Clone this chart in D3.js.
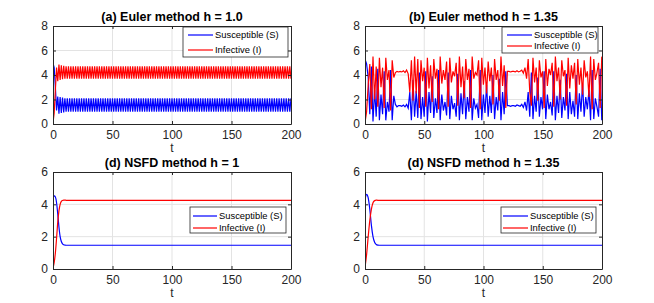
<!DOCTYPE html>
<html>
<head>
<meta charset="utf-8">
<script src="https://cdn.jsdelivr.net/npm/d3@7"></script>
<style>
  body { margin: 0; background: #fff; }
  text { font-family: "Liberation Sans", Arial, sans-serif; fill: #262626; }
</style>
</head>
<body>
<script>
// (a) Euler h = 1.0, one value per step t = 0..200
var S_a = [4.95,4.6,3.0,1.1,2.25,0.85,2.2,0.9,2.15,0.95,
  2.1,1.0,2.1,1.0,2.1,1.0,2.1,1.0,2.1,1.0,2.1,1.0,2.1,1.0,2.1,1.0,2.1,1.0,2.1,1.0,
  2.1,1.0,2.1,1.0,2.1,1.0,2.1,1.0,2.1,1.0,2.1,1.0,2.1,1.0,2.1,1.0,2.1,1.0,2.1,1.0,
  2.1,1.0,2.1,1.0,2.1,1.0,2.1,1.0,2.1,1.0,2.1,1.0,2.1,1.0,2.1,1.0,2.1,1.0,2.1,1.0,
  2.1,1.0,2.1,1.0,2.1,1.0,2.1,1.0,2.1,1.0,2.1,1.0,2.1,1.0,2.1,1.0,2.1,1.0,2.1,1.0,
  2.1,1.0,2.1,1.0,2.1,1.0,2.1,1.0,2.1,1.0,2.1,1.0,2.1,1.0,2.1,1.0,2.1,1.0,2.1,1.0,
  2.1,1.0,2.1,1.0,2.1,1.0,2.1,1.0,2.1,1.0,2.1,1.0,2.1,1.0,2.1,1.0,2.1,1.0,2.1,1.0,
  2.1,1.0,2.1,1.0,2.1,1.0,2.1,1.0,2.1,1.0,2.1,1.0,2.1,1.0,2.1,1.0,2.1,1.0,2.1,1.0,
  2.1,1.0,2.1,1.0,2.1,1.0,2.1,1.0,2.1,1.0,2.1,1.0,2.1,1.0,2.1,1.0,2.1,1.0,2.1,1.0,
  2.1,1.0,2.1,1.0,2.1,1.0,2.1,1.0,2.1,1.0,2.1,1.0,2.1,1.0,2.1,1.0,2.1,1.0,2.1,1.0,
  2.1,1.0,2.1,1.0,2.1,1.0,2.1,1.0,2.1,1.0,2.1];
var I_a = [0.1,0.9,2.8,4.6,3.5,4.85,3.6,4.8,3.65,4.75,
  3.7,4.7,3.7,4.7,3.7,4.7,3.7,4.7,3.7,4.7,3.7,4.7,3.7,4.7,3.7,4.7,3.7,4.7,3.7,4.7,
  3.7,4.7,3.7,4.7,3.7,4.7,3.7,4.7,3.7,4.7,3.7,4.7,3.7,4.7,3.7,4.7,3.7,4.7,3.7,4.7,
  3.7,4.7,3.7,4.7,3.7,4.7,3.7,4.7,3.7,4.7,3.7,4.7,3.7,4.7,3.7,4.7,3.7,4.7,3.7,4.7,
  3.7,4.7,3.7,4.7,3.7,4.7,3.7,4.7,3.7,4.7,3.7,4.7,3.7,4.7,3.7,4.7,3.7,4.7,3.7,4.7,
  3.7,4.7,3.7,4.7,3.7,4.7,3.7,4.7,3.7,4.7,3.7,4.7,3.7,4.7,3.7,4.7,3.7,4.7,3.7,4.7,
  3.7,4.7,3.7,4.7,3.7,4.7,3.7,4.7,3.7,4.7,3.7,4.7,3.7,4.7,3.7,4.7,3.7,4.7,3.7,4.7,
  3.7,4.7,3.7,4.7,3.7,4.7,3.7,4.7,3.7,4.7,3.7,4.7,3.7,4.7,3.7,4.7,3.7,4.7,3.7,4.7,
  3.7,4.7,3.7,4.7,3.7,4.7,3.7,4.7,3.7,4.7,3.7,4.7,3.7,4.7,3.7,4.7,3.7,4.7,3.7,4.7,
  3.7,4.7,3.7,4.7,3.7,4.7,3.7,4.7,3.7,4.7,3.7,4.7,3.7,4.7,3.7,4.7,3.7,4.7,3.7,4.7,
  3.7,4.7,3.7,4.7,3.7,4.7,3.7,4.7,3.7,4.7,3.7];

// (b) Euler h = 1.35, one value per step (t = 0 .. 199.8)
var S_b = [5.3,4.9,3.8,0.8,4.7,0.2,2.8,0.6,4.5,0.3,2.4,0.8,4.3,0.3,1.8,1.0,4.4,0.3,2.3,1.6,
  1.4,1.5,1.5,1.45,1.55,1.4,1.6,1.3,2.6,0.3,3.6,0.6,2.7,0.5,4.2,0.4,2.2,0.6,4.3,0.2,
  2.6,0.9,3.9,0.5,2.1,0.9,4.4,0.3,2.4,1.1,1.8,0.7,4.2,0.4,2.3,1.2,1.7,0.6,4.1,0.3,
  2.5,0.8,3.5,0.4,2.2,1.0,4.4,0.3,2.1,1.3,1.6,0.5,4.4,0.3,2.4,0.9,3.2,0.6,2.3,0.9,
  4.0,0.4,2.2,1.1,3.7,0.3,2.6,0.8,4.3,1.5,1.5,1.45,1.5,1.5,1.45,1.55,1.5,1.45,1.6,1.35,
  1.8,1.1,2.6,0.6,4.2,0.4,2.3,1.0,3.8,0.6,2.2,1.2,4.3,0.4,2.4,1.2,1.8,0.7,4.3,0.3,
  2.3,0.9,3.6,0.5,2.2,1.1,4.1,0.4,2.6,0.8,1.9,0.6,4.0,0.4,2.5,1.0,3.3,0.6,2.2,1.2,
  2.8,0.3,4.4,0.4,2.1,1.4,0.6,4.5,0.3];
var I_b = [0.1,1.0,3.2,4.9,1.2,5.5,2.0,4.7,1.4,5.4,3.0,4.6,1.3,5.4,3.6,4.4,1.1,5.2,3.8,4.2,
  4.3,4.25,4.3,4.25,4.35,4.2,4.4,4.1,2.6,5.2,1.9,5.5,2.5,5.3,1.3,5.2,3.5,4.6,1.4,5.4,
  2.9,4.8,1.8,5.3,3.7,4.5,1.2,5.5,3.3,4.4,3.6,5.1,1.4,5.4,3.4,4.3,3.9,5.0,1.5,5.5,
  3.0,4.7,2.1,5.3,3.6,4.5,1.3,5.5,3.7,4.2,4.0,5.2,1.2,5.4,3.2,4.6,2.5,5.1,3.5,4.6,
  1.6,5.3,3.6,4.4,1.9,5.5,3.1,4.8,1.3,4.3,4.3,4.25,4.3,4.3,4.25,4.35,4.25,4.3,4.4,4.15,
  4.6,3.7,5.3,2.6,1.5,5.4,3.4,4.6,1.9,5.2,3.8,4.3,1.3,5.3,3.1,4.5,4.0,5.0,1.4,5.5,
  3.5,4.6,2.0,5.2,3.9,4.4,1.5,5.4,2.9,4.8,3.7,5.0,1.6,5.3,3.2,4.6,2.4,5.2,3.8,4.3,
  2.2,5.5,1.2,5.3,3.6,4.2,5.0,1.3,5.5];

// (d) NSFD h = 1
var t_c = [0,1,2,3,4,5,6,7,8,9,10,11,12,14,200];
var S_c = [4.4,4.52,4.45,4.1,3.4,2.6,2.0,1.7,1.56,1.5,1.48,1.47,1.47,1.47,1.47];
var I_c = [0.05,0.4,1.0,1.9,2.9,3.6,4.0,4.18,4.24,4.26,4.26,4.25,4.25,4.25,4.25];

// (d) NSFD h = 1.35
var t_d = [0,1.35,2.7,4.05,5.4,6.75,8.1,9.45,10.8,12.15,13.5,200];
var S_d = [4.3,4.62,4.4,3.7,2.7,2.0,1.65,1.52,1.48,1.47,1.47,1.47];
var I_d = [0.1,0.9,2.0,3.0,3.7,4.1,4.23,4.26,4.25,4.25,4.25,4.25];

var xTicks = [0, 50, 100, 150, 200];
var yTicksTop = [0, 2, 4, 6, 8];
var yTicksBottom = [0, 2, 4, 6];

function steps(n, h) { return d3.range(n).map(function(k) { return k * h; }); }

var panels = [
  { title: "(a) Euler method h = 1.0", x0: 53, x1: 291, y0: 26, y1: 124, ymax: 8, yt: yTicksTop,
    t: steps(S_a.length, 1), S: S_a, I: I_a, curve: d3.curveLinear,
    leg: { x: 183, y: 27, w: 105, h: 30, lx: 188, ll: 25, r1: 35, r2: 50 }, sLabel: "Susceptible  (S)" },
  { title: "(b) Euler method h = 1.35", x0: 365, x1: 602, y0: 26, y1: 124, ymax: 8, yt: yTicksTop,
    t: steps(S_b.length, 1.35), S: S_b, I: I_b, curve: d3.curveLinear,
    leg: { x: 502, y: 27, w: 96, h: 26, lx: 507, ll: 25, r1: 35, r2: 46 }, sLabel: "Susceptible (S)" },
  { title: "(d) NSFD method h = 1", x0: 53, x1: 291, y0: 172, y1: 269, ymax: 6, yt: yTicksBottom,
    t: t_c, S: S_c, I: I_c, curve: d3.curveMonotoneX,
    leg: { x: 190, y: 207, w: 96, h: 26, lx: 193, ll: 24, r1: 216, r2: 228 }, sLabel: "Susceptible (S)" },
  { title: "(d) NSFD method h = 1.35", x0: 365, x1: 602, y0: 172, y1: 269, ymax: 6, yt: yTicksBottom,
    t: t_d, S: S_d, I: I_d, curve: d3.curveMonotoneX,
    leg: { x: 501, y: 207, w: 95, h: 26, lx: 503, ll: 25, r1: 216, r2: 228 }, sLabel: "Susceptible (S)" }
];

var svg = d3.select("body").append("svg")
  .attr("width", 654)
  .attr("height", 303);

svg.append("rect").attr("width", 654).attr("height", 303).attr("fill", "#fff");

panels.forEach(function(p, i) {
  var x = d3.scaleLinear().domain([0, 200]).range([p.x0, p.x1]);
  var y = d3.scaleLinear().domain([0, p.ymax]).range([p.y1, p.y0]);
  var g = svg.append("g");
  var clipId = "clip" + i;

  g.append("clipPath").attr("id", clipId)
    .append("rect").attr("x", p.x0).attr("y", p.y0)
    .attr("width", p.x1 - p.x0).attr("height", p.y1 - p.y0);

  // grid
  g.selectAll(".gx").data(xTicks.slice(1, -1)).enter().append("line")
    .attr("x1", function(d) { return x(d); }).attr("x2", function(d) { return x(d); })
    .attr("y1", p.y0).attr("y2", p.y1)
    .attr("stroke", "#e3e3e3").attr("stroke-width", 1);
  g.selectAll(".gy").data(p.yt.slice(1, -1)).enter().append("line")
    .attr("x1", p.x0).attr("x2", p.x1)
    .attr("y1", function(d) { return y(d); }).attr("y2", function(d) { return y(d); })
    .attr("stroke", "#e3e3e3").attr("stroke-width", 1);

  // series
  var line = function(vals) {
    return d3.line()
      .x(function(d, k) { return x(p.t[k]); })
      .y(function(d) { return y(d); })
      .curve(p.curve)(vals);
  };
  g.append("path").attr("d", line(p.S)).attr("fill", "none")
    .attr("stroke", "#0000ff").attr("stroke-width", 1.2).attr("clip-path", "url(#" + clipId + ")");
  g.append("path").attr("d", line(p.I)).attr("fill", "none")
    .attr("stroke", "#ff0000").attr("stroke-width", 1.2).attr("clip-path", "url(#" + clipId + ")");

  // axes (ticks inward, boxed)
  var fmt = d3.format("d");
  g.append("g").attr("transform", "translate(0," + p.y1 + ")")
    .call(d3.axisBottom(x).tickValues(xTicks).tickFormat(fmt).tickSizeInner(-3).tickSizeOuter(0).tickPadding(6))
    .call(function(a) {
      a.selectAll("text").attr("font-size", 12).attr("fill", "#262626");
      a.selectAll("line,path").attr("stroke", "#262626");
    });
  g.append("g").attr("transform", "translate(" + p.x0 + ",0)")
    .call(d3.axisLeft(y).tickValues(p.yt).tickFormat(fmt).tickSizeInner(-3).tickSizeOuter(0).tickPadding(5))
    .call(function(a) {
      a.selectAll("text").attr("font-size", 12).attr("fill", "#262626");
      a.selectAll("line,path").attr("stroke", "#262626");
    });
  g.append("g").attr("transform", "translate(0," + p.y0 + ")")
    .call(d3.axisTop(x).tickValues(xTicks).tickSizeInner(-3).tickSizeOuter(0).tickFormat(""))
    .call(function(a) { a.selectAll("line,path").attr("stroke", "#262626"); });
  g.append("g").attr("transform", "translate(" + p.x1 + ",0)")
    .call(d3.axisRight(y).tickValues(p.yt).tickSizeInner(-3).tickSizeOuter(0).tickFormat(""))
    .call(function(a) { a.selectAll("line,path").attr("stroke", "#262626"); });

  // title and x label
  g.append("text").attr("x", (p.x0 + p.x1) / 2).attr("y", p.y0 - 5)
    .attr("text-anchor", "middle").attr("font-size", 12.5).attr("font-weight", "bold")
    .style("fill", "#000").text(p.title);
  g.append("text").attr("x", (p.x0 + p.x1) / 2).attr("y", p.y1 + 28)
    .attr("text-anchor", "middle").attr("font-size", 12).text("t");

  // legend
  var L = p.leg;
  g.append("rect").attr("x", L.x).attr("y", L.y).attr("width", L.w).attr("height", L.h)
    .attr("fill", "#fff").attr("stroke", "#262626").attr("stroke-width", 0.8);
  [[p.sLabel, "#0000ff", L.r1], ["Infective (I)", "#ff0000", L.r2]].forEach(function(e) {
    g.append("line").attr("x1", L.lx).attr("x2", L.lx + L.ll)
      .attr("y1", e[2]).attr("y2", e[2]).attr("stroke", e[1]).attr("stroke-width", 1.2);
    g.append("text").attr("x", L.lx + L.ll + 2).attr("y", e[2] + 3.3)
      .attr("font-size", 9.4).style("fill", "#000").text(e[0]);
  });
});
</script>
</body>
</html>
